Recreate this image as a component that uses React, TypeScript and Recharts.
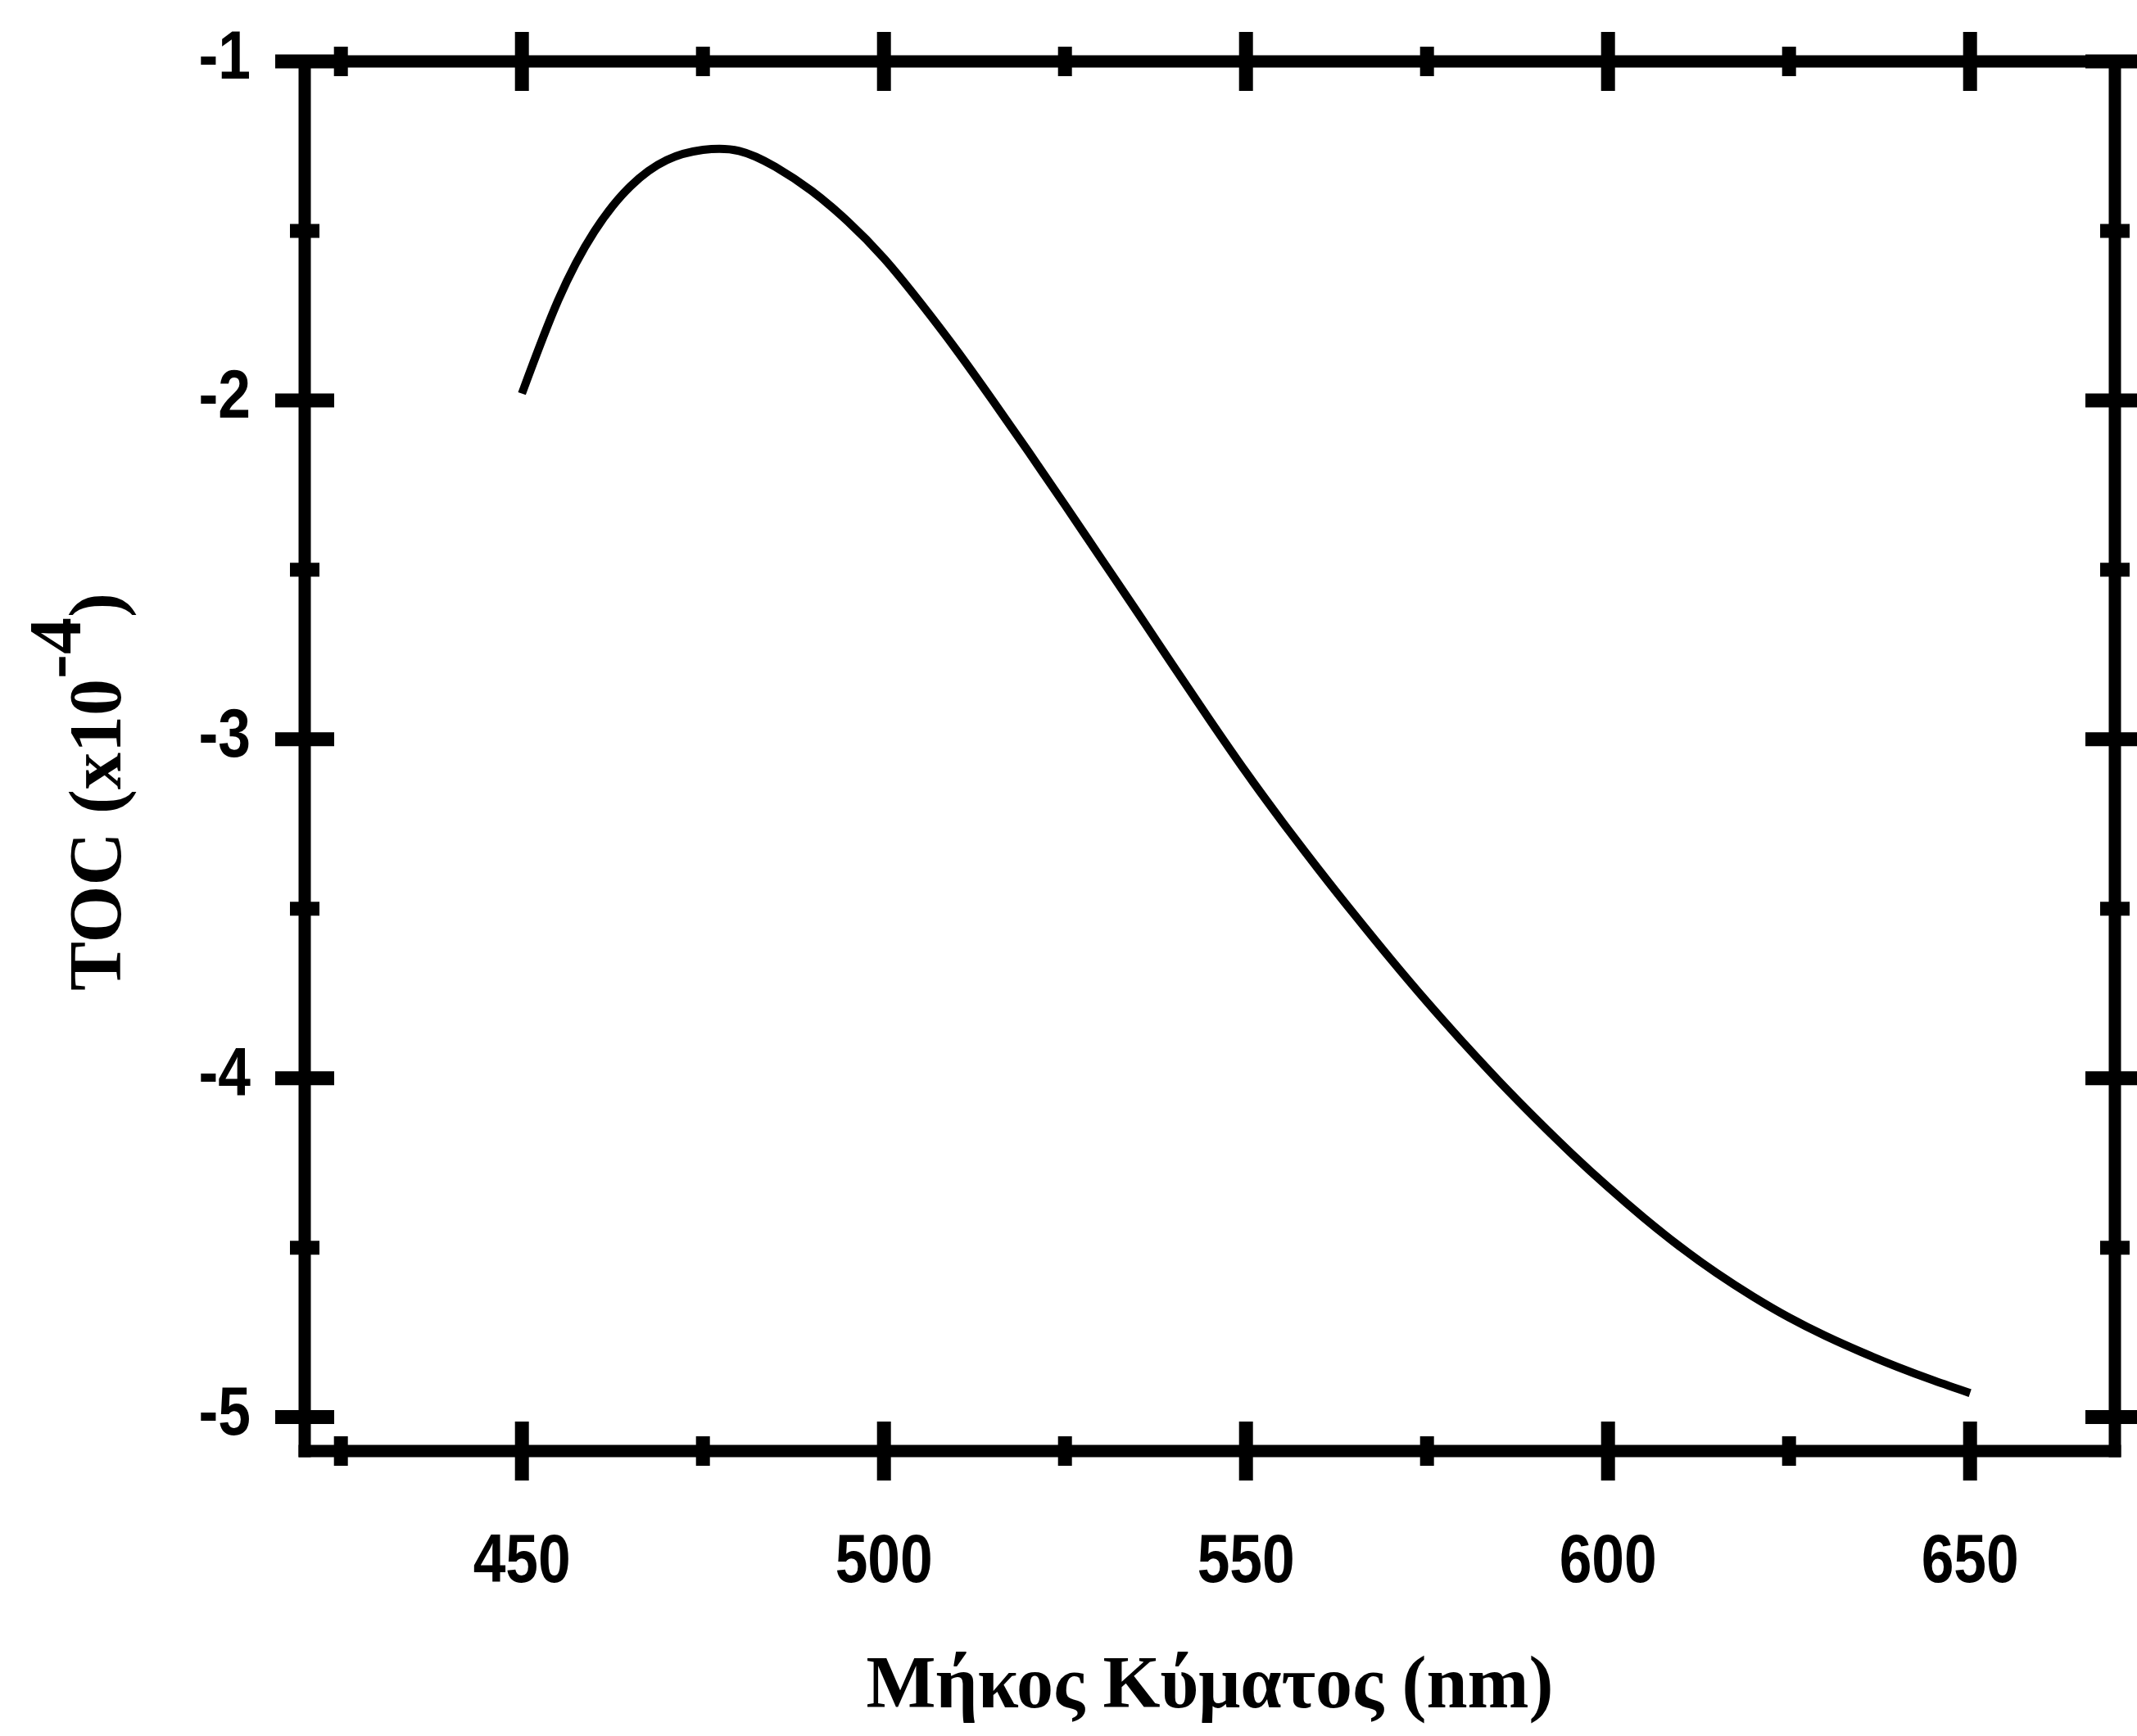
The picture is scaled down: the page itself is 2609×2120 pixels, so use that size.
import React from 'react'
import { LineChart, Line, XAxis, YAxis } from 'recharts'

// wavelength samples (nm) and thermo-optic coefficient (x10^-4)
const wavelength = [
  450, 455, 460, 465, 470, 475, 480, 485, 490, 495, 500, 505, 510, 515, 520, 525, 530, 535, 540, 545,
  550, 555, 560, 565, 570, 575, 580, 585, 590, 595, 600, 605, 610, 615, 620, 625, 630, 635, 640, 645, 650,
]
const toc = [
  -1.98, -1.705, -1.502, -1.368, -1.291, -1.261, -1.264, -1.311, -1.382, -1.472, -1.581, -1.711, -1.851,
  -2.0, -2.153, -2.309, -2.467, -2.625, -2.785, -2.943, -3.097, -3.243, -3.383, -3.518, -3.649, -3.775,
  -3.895, -4.01, -4.119, -4.223, -4.321, -4.413, -4.498, -4.575, -4.644, -4.706, -4.76, -4.808, -4.852,
  -4.892, -4.929,
]

const xTicks = [425, 450, 475, 500, 525, 550, 575, 600, 625, 650]
const xMajor = [450, 500, 550, 600, 650]
const yTicks = [-5, -4.5, -4, -3.5, -3, -2.5, -2, -1.5, -1]
const yMajor = [-5, -4, -3, -2, -1]

const data = wavelength.map((w, i) => ({ w, v: toc[i] }))

if (typeof document !== 'undefined') document.body.style.margin = '0'

const INK = '#000'
const TICK_W = 17
const MAJOR = 36
const MINOR = 18
const sans = '"Liberation Sans", Arial, sans-serif'
const serif = '"Liberation Serif", "Times New Roman", serif'

// bold sans squeezed horizontally, like a narrow face
const TickText = ({ x, y, anchor, children }: any) => (
  <text
    transform={`translate(${x}, ${y}) scale(0.85, 1)`}
    textAnchor={anchor}
    fontFamily={sans}
    fontWeight="bold"
    fontSize={84}
    fill={INK}
  >
    {children}
  </text>
)

const XTick = (labels: boolean) => (props: any) => {
  const { x, y, payload } = props
  const major = xMajor.includes(payload.value)
  const len = major ? MAJOR : MINOR
  return (
    <g>
      <line x1={x} x2={x} y1={y - len} y2={y + len} stroke={INK} strokeWidth={TICK_W} />
      {labels && major && (
        <TickText x={x} y={y + 160} anchor="middle">
          {payload.value}
        </TickText>
      )}
    </g>
  )
}

const YTick = (labels: boolean) => (props: any) => {
  const { x, y, payload } = props
  const major = yMajor.includes(payload.value)
  const len = major ? MAJOR : MINOR
  return (
    <g>
      <line x1={x - len} x2={x + len} y1={y} y2={y} stroke={INK} strokeWidth={TICK_W} />
      {labels && major && (
        <TickText x={x - 66} y={y + 21} anchor="end">
          {payload.value}
        </TickText>
      )}
    </g>
  )
}

const XTitle = (props: any) => {
  const { viewBox } = props
  return (
    <text
      x={viewBox.x + viewBox.width / 2}
      y={viewBox.y + 313}
      textAnchor="middle"
      fontFamily={serif}
      fontWeight="bold"
      fontSize={90}
      fill={INK}
    >
      Μήκος Κύματος (nm)
    </text>
  )
}

const YTitle = () => (
  <text
    transform="translate(147, 967) rotate(-90)"
    textAnchor="middle"
    fontFamily={serif}
    fontWeight="bold"
    fontSize={90}
    fill={INK}
  >
    TOC (x10
    <tspan dy={-49}>-4</tspan>
    <tspan dy={49}>)</tspan>
  </text>
)

const axisLine = { stroke: INK, strokeWidth: 15, strokeLinecap: 'square' as const }

export default function App() {
  return (
    <div style={{ width: 2609, height: 2120, background: '#fff' }}>
      <LineChart width={2609} height={2120} data={data} margin={{ top: 74, right: 26, bottom: 0, left: 0 }}>
        <XAxis
          dataKey="w"
          type="number"
          domain={[420, 670]}
          ticks={xTicks}
          interval={0}
          height={348}
          tickSize={0}
          tickMargin={0}
          tickLine={false}
          axisLine={axisLine}
          tick={XTick(true)}
          label={<XTitle />}
        />
        <XAxis
          xAxisId="top"
          dataKey="w"
          orientation="top"
          type="number"
          domain={[420, 670]}
          ticks={xTicks}
          interval={0}
          height={1}
          tickSize={0}
          tickMargin={0}
          tickLine={false}
          axisLine={axisLine}
          tick={XTick(false)}
        />
        <YAxis
          type="number"
          domain={[-5.1, -1]}
          ticks={yTicks}
          interval={0}
          width={372}
          tickSize={0}
          tickMargin={0}
          tickLine={false}
          axisLine={axisLine}
          tick={YTick(true)}
          label={<YTitle />}
        />
        <YAxis
          yAxisId="right"
          orientation="right"
          type="number"
          domain={[-5.1, -1]}
          ticks={yTicks}
          interval={0}
          width={1}
          tickSize={0}
          tickMargin={0}
          tickLine={false}
          axisLine={axisLine}
          tick={YTick(false)}
        />
        {/* frame axes (top / right) need a series bound to them */}
        <Line
          xAxisId="top"
          yAxisId="right"
          type="natural"
          dataKey="v"
          stroke="none"
          dot={false}
          legendType="none"
          isAnimationActive={false}
        />
        <Line
          type="natural"
          dataKey="v"
          stroke={INK}
          strokeWidth={10}
          dot={false}
          isAnimationActive={false}
        />
      </LineChart>
    </div>
  )
}
